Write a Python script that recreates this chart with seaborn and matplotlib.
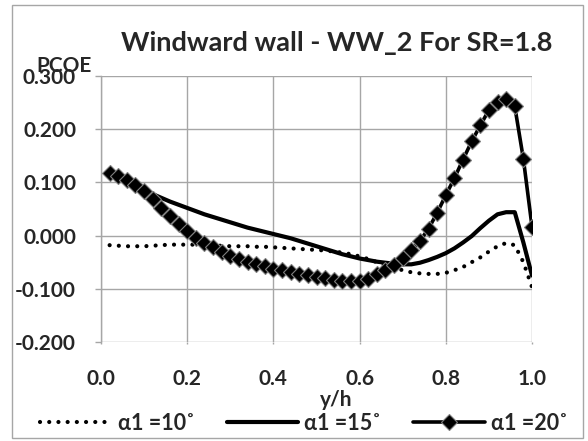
import numpy as np
import pandas as pd
import matplotlib
matplotlib.use("Agg")
import matplotlib.pyplot as plt
from matplotlib.lines import Line2D
from matplotlib.patches import Rectangle
import seaborn as sns

# y/h positions along the wall
y_h = [0.02, 0.04, 0.06, 0.08, 0.10, 0.12, 0.14, 0.16, 0.18, 0.20,
       0.22, 0.24, 0.26, 0.28, 0.30, 0.32, 0.34, 0.36, 0.38, 0.40,
       0.42, 0.44, 0.46, 0.48, 0.50, 0.52, 0.54, 0.56, 0.58, 0.60,
       0.62, 0.64, 0.66, 0.68, 0.70, 0.72, 0.74, 0.76, 0.78, 0.80,
       0.82, 0.84, 0.86, 0.88, 0.90, 0.92, 0.94, 0.96, 0.98, 1.00]

# PCOE for alpha1 = 10 deg
pcoe_10 = [-0.018, -0.019, -0.020, -0.020, -0.020, -0.019, -0.018, -0.017, -0.017, -0.017,
           -0.017, -0.018, -0.019, -0.019, -0.020, -0.020, -0.020, -0.021, -0.021, -0.022,
           -0.023, -0.024, -0.025, -0.026, -0.027, -0.028, -0.030, -0.032, -0.035, -0.039,
           -0.044, -0.050, -0.056, -0.061, -0.065, -0.069, -0.071, -0.072, -0.072, -0.070,
           -0.065, -0.059, -0.050, -0.041, -0.030, -0.020, -0.014, -0.018, -0.050, -0.097]

# PCOE for alpha1 = 15 deg
pcoe_15 = [0.118, 0.111, 0.103, 0.094, 0.086, 0.078, 0.071, 0.064, 0.058, 0.052,
           0.046, 0.040, 0.035, 0.030, 0.025, 0.020, 0.015, 0.011, 0.007, 0.003,
           -0.001, -0.005, -0.010, -0.015, -0.020, -0.025, -0.030, -0.035, -0.039, -0.043,
           -0.046, -0.049, -0.051, -0.053, -0.054, -0.054, -0.051, -0.046, -0.040, -0.033,
           -0.024, -0.013, -0.001, 0.014, 0.028, 0.040, 0.044, 0.044, -0.013, -0.075]

# PCOE for alpha1 = 20 deg
pcoe_20 = [0.118, 0.112, 0.104, 0.095, 0.083, 0.068, 0.052, 0.036, 0.021, 0.008,
           -0.004, -0.014, -0.022, -0.030, -0.038, -0.044, -0.050, -0.054, -0.058, -0.062,
           -0.065, -0.069, -0.072, -0.075, -0.078, -0.080, -0.083, -0.085, -0.086, -0.086,
           -0.081, -0.073, -0.065, -0.056, -0.043, -0.027, -0.010, 0.013, 0.043, 0.076,
           0.108, 0.143, 0.177, 0.207, 0.236, 0.252, 0.256, 0.243, 0.144, 0.017]

series_labels = ["α1 =10˚", "α1 =15˚", "α1 =20˚"]
x_ticks = [0.0, 0.2, 0.4, 0.6, 0.8, 1.0]
y_ticks = [-0.2, -0.1, 0.0, 0.1, 0.2, 0.3]

sns.set_theme(style="white")
plt.rcParams["font.family"] = ["Lato", "DejaVu Sans"]
plt.rcParams["font.weight"] = "bold"

W, H = 588, 441
fig = plt.figure(figsize=(W / 100, H / 100), dpi=100)
ax = fig.add_axes([101 / W, 1 - 342 / H, (532 - 101) / W, (342 - 76) / H])

grid_c = "#a6a6a6"
df10 = pd.DataFrame({"y/h": y_h, "PCOE": pcoe_10})
df15 = pd.DataFrame({"y/h": y_h, "PCOE": pcoe_15})
df20 = pd.DataFrame({"y/h": y_h, "PCOE": pcoe_20})

sns.lineplot(data=df10, x="y/h", y="PCOE", ax=ax, color="black", lw=3.0,
             ls=(0, (0.01, 2.2)), dash_capstyle="round", zorder=3)
sns.lineplot(data=df15, x="y/h", y="PCOE", ax=ax, color="black", lw=3.0, zorder=3)
sns.lineplot(data=df20, x="y/h", y="PCOE", ax=ax, color="black", lw=2.6,
             marker="D", markersize=8.5, markerfacecolor="black",
             markeredgecolor="#7f7f7f", markeredgewidth=0.8, zorder=4)

ax.set_xlim(0, 1.0)
ax.set_ylim(-0.2, 0.3)
ax.set_xticks(x_ticks)
ax.set_yticks(y_ticks)
ax.set_xticklabels([f"{v:.1f}" for v in x_ticks])
ax.set_yticklabels([f"{v:.3f}" for v in y_ticks])
ax.grid(True, color=grid_c, lw=1.0)
ax.set_axisbelow(True)
for s in ["top", "right", "bottom"]:
    ax.spines[s].set_visible(False)
ax.spines["left"].set_color(grid_c)
ax.spines["left"].set_linewidth(1.0)
ax.tick_params(axis="y", which="major", left=True, length=4, width=1.0,
               color=grid_c, pad=14, labelsize=15)
ax.tick_params(axis="x", which="major", bottom=True, length=1.5, width=1.0,
               color=grid_c, pad=18, labelsize=15)
for lab in ax.get_xticklabels() + ax.get_yticklabels():
    lab.set_fontweight("bold")
ax.set_xlabel("")
ax.set_ylabel("")

fig.text(337 / W, 1 - 43 / H, "Windward wall - WW_2 For SR=1.8",
         ha="center", va="center", fontsize=19.5, fontweight="bold")
fig.text(64 / W, 1 - 66 / H, "PCOE", ha="center", va="center",
         fontsize=15, fontweight="bold")
fig.text(336 / W, 1 - 400 / H, "y/h", ha="center", va="center",
         fontsize=15, fontweight="bold")

handles = [
    Line2D([], [], color="black", lw=3.0, ls=(0, (0.01, 2.2)), dash_capstyle="round"),
    Line2D([], [], color="black", lw=3.0),
    Line2D([], [], color="black", lw=2.6, marker="D", markersize=8.5,
           markerfacecolor="black", markeredgecolor="#7f7f7f", markeredgewidth=0.8),
]
fig.legend(handles, series_labels, loc="center", bbox_to_anchor=(304 / W, 1 - 423 / H),
           ncol=3, frameon=False, handlelength=3.3, handletextpad=0.3,
           columnspacing=1.5, prop={"size": 15.5, "weight": "bold"})

fig.patches.append(Rectangle((12 / W, 1 - 438 / H), (583 - 12) / W, (438 - 5) / H,
                             transform=fig.transFigure, fill=False,
                             edgecolor=grid_c, lw=1.0, zorder=0))

fig.savefig("out.png", dpi=100, facecolor="white")
